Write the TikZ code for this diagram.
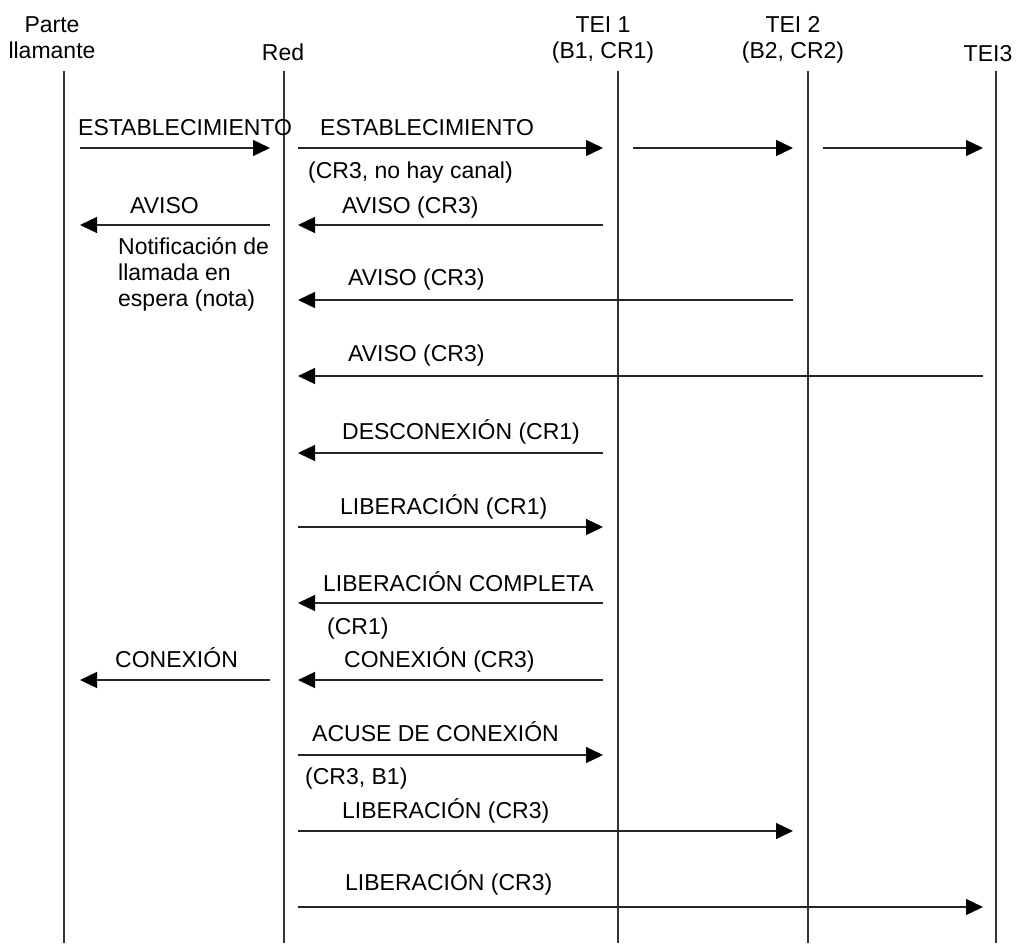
\documentclass[tikz,border=0pt]{standalone}
\usepackage{fontspec}
\setmainfont{Liberation Sans}
\usetikzlibrary{arrows.meta,positioning}

\begin{document}
\begin{tikzpicture}[x=1pt,y=-1pt,
    every node/.style={font=\fontsize{23}{26}\selectfont,inner sep=0pt},
    life/.style={line width=1.2pt,black!80},
    msg/.style={line width=1.3pt,black!85,-{Triangle[length=17pt,width=16pt,black]}},
    lbl/.style={anchor=base west}]
  \useasboundingbox (0,0) rectangle (1018,943);
  % heads of the lifelines
  \node (pl) [anchor=north,align=center] at (52,16) {Parte\\llamante};
  \node (red) [anchor=base] at (283,60) {Red};
  \node (tei1) [anchor=north,align=center] at (603,16) {TEI 1\\(B1, CR1)};
  \node (tei2) [anchor=north,align=center] at (793,16) {TEI 2\\(B2, CR2)};
  \node (tei3) [anchor=base] at (988,61) {TEI3};
  \foreach \n/\x in {pl/64,red/284,tei1/618,tei2/808,tei3/996}
    {\coordinate (\n-t) at (\x,71);
     \coordinate (\n-b) at (\x,943);
     \draw[life] (\n-t) -- (\n-b);}
  % message end points
  \foreach \n/\x/\y in {a1/80/148,a2/270/148,b1/298/148,b2/603/148,c1/633/148,c2/793/148,
      d1/823/148,d2/983/148,e1/270/225,e2/80/225,f1/603/225,f2/298/225,
      g1/793/300,g2/298/300,h1/983/376,h2/298/376,i1/603/453,i2/298/453,
      j1/298/527,j2/603/527,k1/603/603,k2/298/603,l1/270/680,l2/80/680,
      m1/603/680,m2/298/680,n1/298/755,n2/603/755,o1/298/831,o2/793/831,
      p1/298/907,p2/983/907}
    \coordinate (\n) at (\x,\y);
  % messages
  \draw[msg] (a1) -- (a2);
  \draw[msg] (b1) -- (b2);
  \draw[msg] (c1) -- (c2);
  \draw[msg] (d1) -- (d2);
  \draw[msg] (e1) -- (e2);
  \draw[msg] (f1) -- (f2);
  \draw[msg] (g1) -- (g2);
  \draw[msg] (h1) -- (h2);
  \draw[msg] (i1) -- (i2);
  \draw[msg] (j1) -- (j2);
  \draw[msg] (k1) -- (k2);
  \draw[msg] (l1) -- (l2);
  \draw[msg] (m1) -- (m2);
  \draw[msg] (n1) -- (n2);
  \draw[msg] (o1) -- (o2);
  \draw[msg] (p1) -- (p2);
  % labels
  \node (la1) [lbl] at (78,135) {ESTABLECIMIENTO};
  \node (lb1) [lbl] at (320,135) {ESTABLECIMIENTO};
  \node (lb2) [lbl] at (308,178) {(CR3, no hay canal)};
  \node (le1) [lbl] at (130,213) {AVISO};
  \node (lf1) [lbl] at (342,213) {AVISO (CR3)};
  \node (note) [anchor=north west,align=left] at (118,237)
    {Notificación de\\llamada en\\espera (nota)};
  \node (lg1) [lbl] at (348,285) {AVISO (CR3)};
  \node (lh1) [lbl] at (348,361) {AVISO (CR3)};
  \node (li1) [lbl] at (342,439) {DESCONEXIÓN (CR1)};
  \node (lj1) [lbl] at (340,514) {LIBERACIÓN (CR1)};
  \node (lk1) [lbl] at (323,591) {LIBERACIÓN COMPLETA};
  \node (lk2) [lbl] at (327,634) {(CR1)};
  \node (ll1) [lbl] at (115,667) {CONEXIÓN};
  \node (lm1) [lbl] at (344,667) {CONEXIÓN (CR3)};
  \node (ln1) [lbl] at (312,741) {ACUSE DE CONEXIÓN};
  \node (ln2) [lbl] at (305,784) {(CR3, B1)};
  \node (lo1) [lbl] at (342,818) {LIBERACIÓN (CR3)};
  \node (lp1) [lbl] at (345,890) {LIBERACIÓN (CR3)};
\end{tikzpicture}
\end{document}
